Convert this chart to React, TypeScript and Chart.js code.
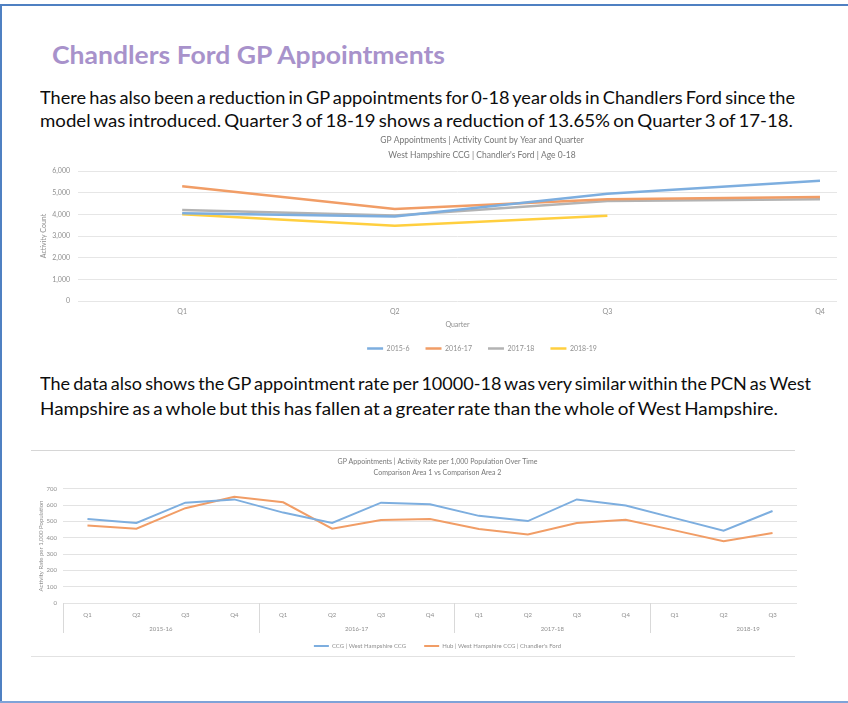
import React, { useEffect, useLayoutEffect, useRef } from "react";
import { Chart, registerables } from "chart.js";

Chart.register(...registerables);

// ---------- page text ----------
const pageTitle = "Chandlers Ford GP Appointments";
const introLines = [
  "There has also been a reduction in GP appointments for 0-18 year olds in Chandlers Ford since the",
  "model was introduced. Quarter 3 of 18-19 shows a reduction of 13.65% on Quarter 3 of 17-18.",
];
const outroLines = [
  "The data also shows the GP appointment rate per 10000-18 was very similar within the PCN as West",
  "Hampshire as a whole but this has fallen at a greater rate than the whole of West Hampshire.",
];

// ---------- chart 1 data ----------
const countTitle = [
  "GP Appointments | Activity Count by Year and Quarter",
  "West Hampshire CCG | Chandler's Ford | Age 0-18",
];
const countQuarters = ["Q1", "Q2", "Q3", "Q4"];
const countSeriesNames = ["2015-6", "2016-17", "2017-18", "2018-19"];
const count2015_6 = [4050, 3900, 4950, 5550];
const count2016_17 = [5300, 4250, 4700, 4800];
const count2017_18 = [4200, 3950, 4620, 4700];
const count2018_19 = [4000, 3470, 3930];
const countAxisTitle = "Activity Count";
const countXAxisTitle = "Quarter";

// ---------- chart 2 data ----------
const rateTitle = [
  "GP Appointments | Activity Rate per 1,000 Population Over Time",
  "Comparison Area 1 vs Comparison Area 2",
];
const ratePeriods = ["2015-16", "2016-17", "2017-18", "2018-19"];
const ratePeriodQuarterCounts = [4, 4, 4, 3];
const rateQuarterLabels = [
  "Q1", "Q2", "Q3", "Q4",
  "Q1", "Q2", "Q3", "Q4",
  "Q1", "Q2", "Q3", "Q4",
  "Q1", "Q2", "Q3",
];
const ccgRate = [515, 491, 616, 636, 555, 491, 616, 606, 535, 503, 636, 598, 521, 444, 565];
const hubRate = [476, 456, 582, 652, 618, 456, 509, 515, 455, 420, 491, 511, 446, 379, 430];
const rateSeriesNames = ["CCG | West Hampshire CCG", "Hub | West Hampshire CCG | Chandler's Ford"];
const rateAxisTitle = "Activity Rate per 1,000 Population";

const FONT = "Lato, 'Open Sans', sans-serif";
const BLUE = "#7DAEDF";
const ORANGE = "#F19D66";
const GREY = "#B3B3B3";
const YELLOW = "#FFCF3F";
const TICK = "#8f8f8f";
const TITLE = "#777777";

function FitLine(props: {
  text: string;
  left: number;
  centerY: number;
  width: number;
  size: number;
  weight?: number;
  color: string;
  wordSpacing?: number;
}) {
  const ref = useRef<HTMLSpanElement>(null);
  useLayoutEffect(() => {
    const el = ref.current;
    if (!el) return;
    const fit = () => {
      el.style.transform = "none";
      const w = el.getBoundingClientRect().width;
      if (w > 0) el.style.transform = `scaleX(${props.width / w})`;
    };
    fit();
    (document as any).fonts?.ready?.then(fit);
  }, [props.text, props.width]);
  const lh = Math.round(props.size * 1.4);
  return (
    <div
      style={{
        position: "absolute",
        left: props.left,
        top: props.centerY - lh / 2,
        height: lh,
        lineHeight: `${lh}px`,
        whiteSpace: "nowrap",
        fontFamily: FONT,
        fontSize: props.size,
        fontWeight: props.weight ?? 400,
        color: props.color,
        wordSpacing: props.wordSpacing ?? 0,
      }}
    >
      <span ref={ref} style={{ display: "inline-block", transformOrigin: "0 50%" }}>
        {props.text}
      </span>
    </div>
  );
}

function CountChart() {
  const ref = useRef<HTMLCanvasElement>(null);
  useEffect(() => {
    if (!ref.current) return;
    const mk = (label: string, values: number[], color: string) => ({
      label,
      data: values.map((v, i) => ({ x: i + 1, y: v })),
      borderColor: color,
      backgroundColor: color,
      borderWidth: 2.5,
      pointRadius: 0,
      tension: 0,
    });
    const chart = new Chart(ref.current, {
      type: "line",
      data: {
        datasets: [
          mk(countSeriesNames[0], count2015_6, BLUE),
          mk(countSeriesNames[1], count2016_17, ORANGE),
          mk(countSeriesNames[2], count2017_18, GREY),
          mk(countSeriesNames[3], count2018_19, YELLOW),
        ],
      },
      options: {
        animation: false,
        responsive: false,
        layout: { padding: 0 },
        plugins: {
          tooltip: { enabled: false },
          title: {
            display: true,
            text: countTitle,
            color: TITLE,
            font: { family: FONT, size: 8.5, weight: "normal", lineHeight: 1.73 },
            padding: { top: 3, bottom: 8.6 },
          },
          legend: {
            position: "bottom",
            labels: {
              usePointStyle: true,
              pointStyle: "line",
              pointStyleWidth: 16,
              boxHeight: 7,
              padding: 16,
              color: TICK,
              font: { family: FONT, size: 7 },
            },
          },
        },
        scales: {
          x: {
            type: "linear",
            min: 0.51,
            max: 4.08,
            afterBuildTicks: (s: any) => {
              s.ticks = countQuarters.map((_, i) => ({ value: i + 1 }));
            },
            afterFit: (s: any) => {
              s.height = 28;
            },
            ticks: {
              callback: (v: any) => countQuarters[Number(v) - 1] ?? "",
              color: TICK,
              font: { family: FONT, size: 7 },
              padding: 7,
              maxRotation: 0,
            },
            grid: { display: false, drawTicks: false },
            border: { display: false },
            title: {
              display: true,
              text: countXAxisTitle,
              color: TICK,
              font: { family: FONT, size: 7 },
              padding: { top: 0, bottom: 0 },
            },
          },
          y: {
            min: 0,
            max: 6000,
            afterFit: (s: any) => {
              s.width = 48;
            },
            ticks: {
              stepSize: 1000,
              callback: (v: any) => Number(v).toLocaleString("en-US"),
              color: TICK,
              font: { family: FONT, size: 7 },
              padding: 8,
            },
            grid: { color: "#E6E6E6", drawTicks: false },
            border: { display: false },
            title: {
              display: true,
              text: countAxisTitle,
              color: TICK,
              font: { family: FONT, size: 7 },
              padding: { top: 10, bottom: 0 },
            },
          },
          yR: {
            position: "right",
            display: true,
            afterFit: (s: any) => {
              s.width = 97;
            },
            ticks: { display: false },
            grid: { display: false, drawTicks: false },
            border: { display: false },
          },
        },
      } as any,
    });
    return () => chart.destroy();
  }, []);
  return (
    <canvas
      ref={ref}
      width={904}
      height={232}
      style={{ position: "absolute", left: 30, top: 130, width: 904, height: 232 }}
    />
  );
}

const periodGroupsPlugin = {
  id: "periodGroups",
  afterDraw(chart: any) {
    const x = chart.scales.x;
    const area = chart.chartArea;
    const ctx = chart.ctx;
    ctx.save();
    ctx.strokeStyle = "#D9D9D9";
    ctx.lineWidth = 1;
    ctx.fillStyle = TICK;
    ctx.font = `6px ${FONT}`;
    ctx.textAlign = "center";
    ctx.textBaseline = "middle";
    const line = (px: number) => {
      ctx.beginPath();
      ctx.moveTo(Math.round(px) + 0.5, area.bottom);
      ctx.lineTo(Math.round(px) + 0.5, area.bottom + 30);
      ctx.stroke();
    };
    line(area.left);
    let start = 0;
    ratePeriods.forEach((p, gi) => {
      const n = ratePeriodQuarterCounts[gi];
      const center = x.getPixelForValue(start + 1.5);
      ctx.fillText(p, center, area.bottom + 26);
      const end = start + n - 1;
      if (gi < ratePeriods.length - 1) {
        line((x.getPixelForValue(end) + x.getPixelForValue(end + 1)) / 2);
      }
      start += n;
    });
    ctx.restore();
  },
};

function RateChart() {
  const ref = useRef<HTMLCanvasElement>(null);
  useEffect(() => {
    if (!ref.current) return;
    const mk = (label: string, values: number[], color: string) => ({
      label,
      data: values,
      borderColor: color,
      backgroundColor: color,
      borderWidth: 2,
      pointRadius: 0,
      tension: 0,
    });
    const chart = new Chart(ref.current, {
      type: "line",
      data: {
        labels: rateQuarterLabels,
        datasets: [mk(rateSeriesNames[0], ccgRate, BLUE), mk(rateSeriesNames[1], hubRate, ORANGE)],
      },
      plugins: [periodGroupsPlugin],
      options: {
        animation: false,
        responsive: false,
        layout: { padding: 0 },
        plugins: {
          tooltip: { enabled: false },
          title: {
            display: true,
            text: rateTitle,
            color: TITLE,
            font: { family: FONT, size: 7, weight: "normal", lineHeight: 1.57 },
            padding: { top: 16.5, bottom: 10.5 },
          },
          legend: {
            position: "bottom",
            labels: {
              usePointStyle: true,
              pointStyle: "line",
              pointStyleWidth: 15,
              boxHeight: 6,
              padding: 18,
              color: TICK,
              font: { family: FONT, size: 6 },
            },
          },
        },
        scales: {
          x: {
            type: "category",
            offset: true,
            afterFit: (s: any) => {
              s.height = 22;
            },
            ticks: {
              color: TICK,
              font: { family: FONT, size: 6 },
              padding: 8,
              maxRotation: 0,
              autoSkip: false,
            },
            grid: { display: false, drawTicks: false },
            border: { display: false },
          },
          y: {
            min: 0,
            max: 700,
            afterFit: (s: any) => {
              s.width = 33;
            },
            ticks: {
              stepSize: 100,
              color: TICK,
              font: { family: FONT, size: 6 },
              padding: 6,
            },
            grid: { color: "#E3E3E3", drawTicks: false },
            border: { display: false },
            title: {
              display: true,
              text: rateAxisTitle,
              color: TICK,
              font: { family: FONT, size: 6 },
              padding: { top: 7.4, bottom: 0 },
            },
          },
          yR: {
            position: "right",
            display: true,
            afterFit: (s: any) => {
              s.width = 48;
            },
            ticks: { display: false },
            grid: { display: false, drawTicks: false },
            border: { display: false },
          },
        },
      } as any,
    });
    return () => chart.destroy();
  }, []);
  return (
    <canvas
      ref={ref}
      width={815}
      height={219}
      style={{ position: "absolute", left: 30, top: 440, width: 815, height: 219 }}
    />
  );
}

export default function App() {
  return (
    <div
      style={{
        position: "fixed",
        left: 0,
        top: 0,
        width: 848,
        height: 703,
        overflow: "hidden",
        background: "#ffffff",
      }}
    >
      {/* frame */}
      <div style={{ position: "absolute", left: 0, top: 4, width: 848, height: 2, background: "#4F80C2" }} />
      <div style={{ position: "absolute", left: 0, top: 4, width: 2, height: 699, background: "#4F80C2" }} />
      <div style={{ position: "absolute", left: 0, top: 701, width: 848, height: 2, background: "#7FA3D8" }} />

      <FitLine text={pageTitle} left={52} centerY={54} width={393} size={25} weight={700} color="#A892CB" />
      <FitLine text={introLines[0]} left={40} centerY={97} width={755} size={18} color="#0d0d0d" wordSpacing={-1.5} />
      <FitLine text={introLines[1]} left={40} centerY={120} width={753} size={18} color="#0d0d0d" wordSpacing={-1.5} />

      <CountChart />

      <FitLine text={outroLines[0]} left={40} centerY={383} width={771} size={18} color="#0d0d0d" wordSpacing={-1.5} />
      <FitLine text={outroLines[1]} left={40} centerY={408} width={738} size={18} color="#0d0d0d" wordSpacing={-1.5} />

      <div style={{ position: "absolute", left: 31, top: 450, width: 764, height: 1, background: "#D6D6D6" }} />
      <div style={{ position: "absolute", left: 31, top: 656, width: 764, height: 1, background: "#E2E2E2" }} />

      <RateChart />
    </div>
  );
}
